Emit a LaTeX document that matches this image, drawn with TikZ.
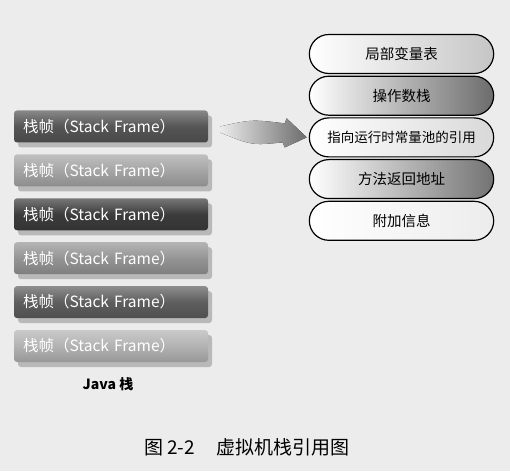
\documentclass[tikz,border=0pt]{standalone}
\usepackage{fontspec}
\setmainfont{Noto Sans CJK SC}
\usepackage{tikz}
\usetikzlibrary{shapes.misc, shadows, calc, positioning}
\definecolor{paper}{RGB}{236,236,236}
\definecolor{darkframe}{RGB}{85,85,85}
\definecolor{lightframe}{RGB}{165,165,165}
\definecolor{deepframe}{RGB}{60,60,60}

\begin{document}
\begin{tikzpicture}[
        x=1pt, y=1pt,
        node distance=11.5pt,
        every node/.style={font=\fontsize{14}{16}\selectfont},
        frame/.style={rounded corners=3pt, minimum height=32pt, text width=176pt, inner xsep=9pt, align=left, text=white,
            font=\fontsize{15.5}{17}\selectfont,
            drop shadow={shadow xshift=4pt, shadow yshift=-5pt, fill=gray!55, opacity=1},
            top color=#1!70!white, bottom color=#1!85!black, middle color=#1},
        part/.style={draw, line width=1.2pt, rounded rectangle, minimum width=191pt, minimum height=39pt, left color=white, right color=#1},
        arr/.style={left color=paper, right color=gray!85!black}
    ]
        \fill[paper] (0,0) rectangle (510,471);

        % Java stack
        \node[frame=darkframe] (f1) at (111,344.5) {栈帧（Stack Frame）};
        \node[frame=lightframe, below=of f1] (f2) {栈帧（Stack Frame）};
        \node[frame=deepframe, below=of f2] (f3) {栈帧（Stack Frame）};
        \node[frame=lightframe!90!black, below=of f3] (f4) {栈帧（Stack Frame）};
        \node[frame=darkframe!95!white, below=of f4] (f5) {栈帧（Stack Frame）};
        \node[frame=lightframe!85!white, below=of f5] (f6) {栈帧（Stack Frame）};
        \node[below=12pt of f6, xshift=-3pt, font=\fontsize{14}{16}\selectfont\bfseries] (jstack) {Java 栈};

        % parts of one frame
        \node[part=gray!45, font=\fontsize{14.5}{16}\selectfont] (p1) at (401.5,417) {局部变量表};
        \node[part=gray!85!black, below=1.5pt of p1, font=\fontsize{14.5}{16}\selectfont] (p2) {操作数栈};
        \node[part=gray!30, below=1.5pt of p2, font=\fontsize{13.5}{16}\selectfont] (p3) {指向运行时常量池的引用};
        \node[part=gray!90!black, below=1.5pt of p3, font=\fontsize{14.5}{16}\selectfont] (p4) {方法返回地址};
        \node[part=gray!15, below=1.5pt of p4, font=\fontsize{14.5}{16}\selectfont] (p5) {附加信息};

        % block arrow
        \coordinate (tip) at ($(p3.west)+(-2,0)$);
        \fill[arr] ($(f1.east)+(12,0)$) .. controls ($(tip)+(-55,18)$) .. ($(tip)+(-22,14)$)
            -- ($(tip)+(-20,19)$) -- (tip) -- ($(tip)+(-22,-10)$) -- ($(tip)+(-24,-5)$)
            .. controls ($(tip)+(-55,-8)$) .. ($(f1.east)+(12,-6)$) -- cycle;

        \node[font=\fontsize{19}{22}\selectfont] (caption) at (247,24) {图 2-2\hspace{22pt}虚拟机栈引用图};
    \end{tikzpicture}
\end{document}
